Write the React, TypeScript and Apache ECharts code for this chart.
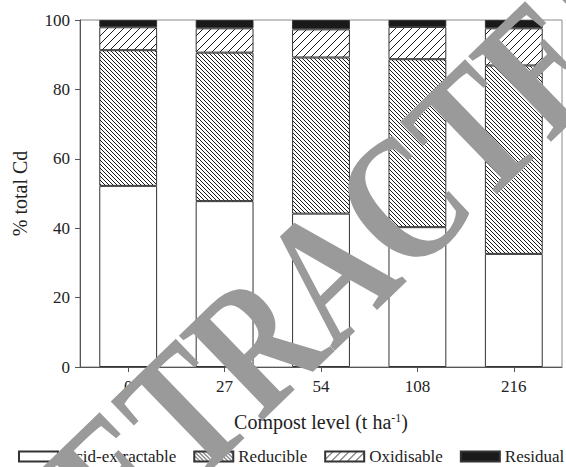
import React, { useEffect, useRef } from 'react';
import * as echarts from 'echarts';

const categories = ['0', '27', '54', '108', '216'];
const acidExtractable = [52.2, 47.8, 44.2, 40.3, 32.6];
const reducible = [39.1, 42.8, 45.0, 48.4, 54.3];
const oxidisable = [6.6, 7.0, 8.1, 9.3, 10.7];
const residual = [2.1, 2.4, 2.7, 2.0, 2.4];
const seriesNames = ['Acid-extractable', 'Reducible', 'Oxidisable', 'Residual'];
const watermarkText = 'RETRACTED';

const FONT = '"Liberation Serif", "Times New Roman", serif';

function hatch(dir: 'back' | 'fwd', size: number, lw: number) {
  const c = document.createElement('canvas');
  c.width = size;
  c.height = size;
  const ctx = c.getContext('2d')!;
  ctx.fillStyle = '#ffffff';
  ctx.fillRect(0, 0, size, size);
  ctx.strokeStyle = '#1a1a1a';
  ctx.lineWidth = lw;
  ctx.beginPath();
  for (let k = -1; k <= 1; k++) {
    if (dir === 'back') {
      ctx.moveTo(k * size, 0);
      ctx.lineTo(k * size + size, size);
    } else {
      ctx.moveTo(k * size, size);
      ctx.lineTo(k * size + size, 0);
    }
  }
  ctx.stroke();
  return { image: c, repeat: 'repeat', imageWidth: size, imageHeight: size } as any;
}

export default function App() {
  const ref = useRef<HTMLDivElement>(null);
  useEffect(() => {
    document.body.style.margin = '0';
    const chart = echarts.init(ref.current!, null, { renderer: 'svg' });
    const colors = ['#ffffff', hatch('back', 4, 1), hatch('fwd', 8, 1), '#1a1a1a'];
    const datas = [acidExtractable, reducible, oxidisable, residual];
    const series = seriesNames.map((name, i) => ({
      name,
      type: 'bar',
      stack: 'total',
      data: datas[i],
      barCategoryGap: '40%',
      itemStyle: { color: colors[i], borderColor: '#333', borderWidth: 1 },
      emphasis: { disabled: true },
    }));
    chart.setOption({
      animation: false,
      grid: { left: 80, right: 4, top: 20, bottom: 100, show: true, borderColor: '#888', borderWidth: 1 },
      xAxis: {
        type: 'category',
        data: categories,
        axisLine: { show: true, lineStyle: { color: '#555' } },
        axisTick: { show: true, alignWithLabel: true, length: 5, lineStyle: { color: '#555' } },
        axisLabel: { fontSize: 17, color: '#222', fontFamily: FONT, margin: 11 },
        name: '{a|Compost level (t ha}{s|-1}{a|)}',
        nameLocation: 'middle',
        nameGap: 45,
        nameTextStyle: {
          rich: {
            a: { fontSize: 20, fontFamily: FONT, color: '#222', verticalAlign: 'bottom' },
            s: { fontSize: 12, fontFamily: FONT, color: '#222', verticalAlign: 'top' },
          },
        },
      },
      yAxis: {
        type: 'value',
        min: 0,
        max: 100,
        interval: 20,
        axisLine: { show: true, lineStyle: { color: '#555' } },
        axisTick: { show: true, length: 5, lineStyle: { color: '#555' } },
        axisLabel: { fontSize: 17, color: '#222', fontFamily: FONT, margin: 10 },
        splitLine: { show: false },
        name: '% total Cd',
        nameLocation: 'middle',
        nameGap: 50,
        nameRotate: 90,
        nameTextStyle: { fontSize: 20, fontFamily: FONT, color: '#222' },
      },
      legend: {
        data: seriesNames,
        top: 448,
        left: 18,
        width: 560,
        padding: 0,
        itemWidth: 39,
        itemHeight: 10,
        itemGap: 17,
        icon: 'rect',
        textStyle: { fontSize: 17, color: '#222', fontFamily: FONT },
      },
      graphic: [
        {
          type: 'text',
          x: 328,
          y: 272,
          rotation: (44 * Math.PI) / 180,
          scaleX: 0.78,
          z: 100,
          silent: true,
          style: {
            text: watermarkText,
            fontSize: 182,
            fontWeight: 'bold',
            fontFamily: FONT,
            fill: '#9a9a9a',
            align: 'center',
            verticalAlign: 'middle',
          },
        },
      ],
      series,
    });
    return () => chart.dispose();
  }, []);
  return <div ref={ref} style={{ width: 566, height: 467 }} />;
}
